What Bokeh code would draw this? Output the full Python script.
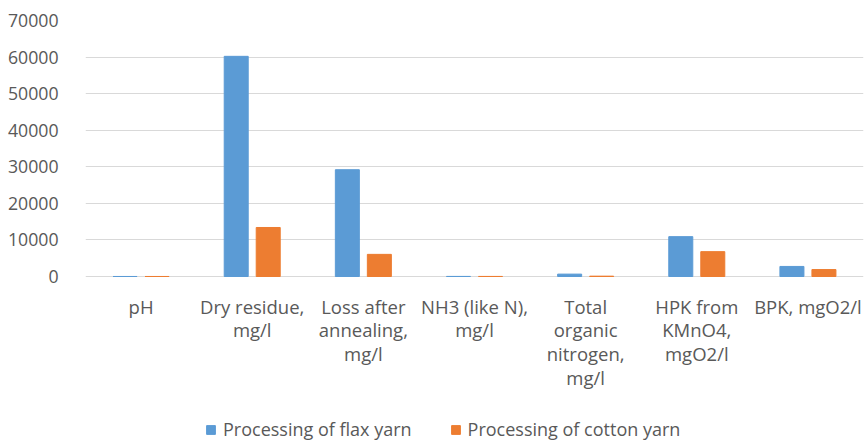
from bokeh.plotting import figure
from bokeh.models import (FactorRange, FixedTicker, Legend, LegendItem,
                          ColumnDataSource, NumeralTickFormatter)
from bokeh.core.properties import value
from bokeh.transform import dodge
from bokeh.embed import file_html
from bokeh.resources import INLINE

categories = ["pH", "Dry residue,\nmg/l", "Loss after\nannealing,\nmg/l",
              "NH3 (like N),\nmg/l", "Total\norganic\nnitrogen,\nmg/l",
              "HPK from\nKMnO4,\nmgO2/l", "BPK, mgO2/l"]
flax = [7.2, 60200, 29200, 25, 650, 10900, 2750]
cotton = [7.5, 13400, 6050, 20, 90, 6800, 1900]
series_names = ["Processing of flax yarn", "Processing of cotton yarn"]
y_ticks = [0, 10000, 20000, 30000, 40000, 50000, 60000, 70000]

FONT = "Open Sans"
TXT = "#595959"
GRID = "#D9D9D9"
Y_MAX = 70000
PLOT_PX = 256          # pixel height of the 0..70000 band
FRAME_PX = 421         # frame extends below to hold category labels + legend
per_px = Y_MAX / PLOT_PX
y_start = -(FRAME_PX - PLOT_PX) * per_px

src = ColumnDataSource(dict(cat=categories, flax=flax, cotton=cotton))
lab_src = ColumnDataSource(dict(cat=categories,
                                y=[-17 * per_px] * len(categories)))

p = figure(x_range=FactorRange(factors=categories), y_range=(y_start, Y_MAX),
           frame_width=778, frame_height=FRAME_PX,
           min_border_left=85, min_border_right=2, min_border_top=20,
           min_border_bottom=0,
           output_backend="svg", toolbar_location=None)
p.outline_line_color = None
p.xgrid.grid_line_color = None
p.ygrid.grid_line_color = GRID
p.ygrid.grid_line_width = 1
p.xaxis.visible = False

r1 = p.vbar(x=dodge("cat", -0.144, range=p.x_range), top="flax", width=0.216,
            source=src, fill_color="#5B9BD5", line_color="#5B9BD5")
r2 = p.vbar(x=dodge("cat", 0.144, range=p.x_range), top="cotton", width=0.216,
            source=src, fill_color="#ED7D31", line_color="#ED7D31")

p.text(x="cat", y="y", text="cat", source=lab_src,
       text_align="center", text_baseline="top",
       text_font=value(FONT), text_font_size="18.5px",
       text_color=TXT, text_line_height=0.95)

p.yaxis.ticker = FixedTicker(ticks=y_ticks)
p.yaxis.formatter = NumeralTickFormatter(format="0")
p.yaxis.axis_line_color = None
p.yaxis.major_tick_line_color = None
p.yaxis.minor_tick_line_color = None
p.yaxis.major_label_standoff = 21
p.yaxis.major_label_text_font = FONT
p.yaxis.major_label_text_font_size = "17.7px"
p.yaxis.major_label_text_color = TXT

legend = Legend(items=[LegendItem(label=series_names[0], renderers=[r1]),
                       LegendItem(label=series_names[1], renderers=[r2])],
                orientation="horizontal", location=(120, 0),
                border_line_color=None, background_fill_alpha=0,
                glyph_width=11, glyph_height=11, label_standoff=7,
                spacing=38, padding=0, margin=0,
                label_text_font=FONT, label_text_font_size="18px",
                label_text_color=TXT)
p.add_layout(legend, "center")

open("out.html", "w").write(file_html(p, INLINE))
